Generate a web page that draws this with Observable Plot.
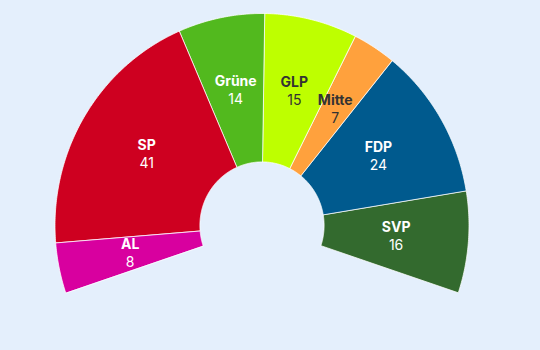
<!DOCTYPE html>
<html>
<head>
<meta charset="utf-8">
<script src="https://cdn.jsdelivr.net/npm/d3@7"></script>
<script src="https://cdn.jsdelivr.net/npm/@observablehq/plot@0.6"></script>
<style>
  html, body { margin: 0; padding: 0; background: #E4EFFC; }
  #chart { width: 540px; height: 350px; }
</style>
</head>
<body>
<div id="chart"></div>
<script>
// Data
const parties = ["AL", "SP", "Grüne", "GLP", "Mitte", "FDP", "SVP"];
const seats = [8, 41, 14, 15, 7, 24, 16];
const colors = ["#D8009F", "#CE0020", "#52B91E", "#BEFF00", "#FFA13D", "#005A8E", "#336A2E"];
const labelColors = ["white", "white", "white", "#333", "#333", "white", "white"];

// Layout of the half-donut (in unit radius coordinates)
const SPAN = 217 * Math.PI / 180;
const INNER = 0.30;
const LABEL_R = (INNER + 1) / 2;

const rows = parties.map((p, i) => ({party: p, seats: seats[i], color: colors[i], label: labelColors[i]}));
const arcs = d3.pie().sort(null).value(d => d.seats).startAngle(-SPAN / 2).endAngle(SPAN / 2)(rows);

const poly = [];
const labels = [];
for (const a of arcs) {
  const n = Math.max(6, Math.ceil((a.endAngle - a.startAngle) / 0.01));
  for (let k = 0; k <= n; k++) {
    const t = a.startAngle + (a.endAngle - a.startAngle) * k / n;
    poly.push({party: a.data.party, x: Math.sin(t), y: Math.cos(t)});
  }
  for (let k = n; k >= 0; k--) {
    const t = a.startAngle + (a.endAngle - a.startAngle) * k / n;
    poly.push({party: a.data.party, x: INNER * Math.sin(t), y: INNER * Math.cos(t)});
  }
  const m = (a.startAngle + a.endAngle) / 2;
  labels.push({party: a.data.party, seats: a.data.seats, label: a.data.label,
               x: LABEL_R * Math.sin(m), y: LABEL_R * Math.cos(m)});
}

const cx = 261.5, cy = 225, rx = 207, ry = 212;
const W = 540, H = 350;

const textMarks = [];
for (const col of ["white", "#333"]) {
  const sub = labels.filter(d => d.label === col);
  textMarks.push(Plot.text(sub, {x: "x", y: "y", text: "party", dy: -9, fill: col, fontWeight: "bold", fontSize: 14}));
  textMarks.push(Plot.text(sub, {x: "x", y: "y", text: d => String(d.seats), dy: 9, fill: col, fontSize: 14}));
}

const chart = Plot.plot({
  width: W,
  height: H,
  margin: 0,
  style: {background: "transparent", fontFamily: "Inter, 'Noto Sans', sans-serif", fontSize: "14px"},
  x: {domain: [-cx / rx, (W - cx) / rx], axis: null},
  y: {domain: [-(H - cy) / ry, cy / ry], axis: null},
  color: {domain: parties, range: colors},
  marks: [
    Plot.line(poly, {x: "x", y: "y", z: "party", fill: "party", stroke: "white", strokeOpacity: 0.75, strokeWidth: 1, curve: "linear-closed"}),
    ...textMarks
  ]
});
document.getElementById("chart").appendChild(chart);
</script>
</body>
</html>
